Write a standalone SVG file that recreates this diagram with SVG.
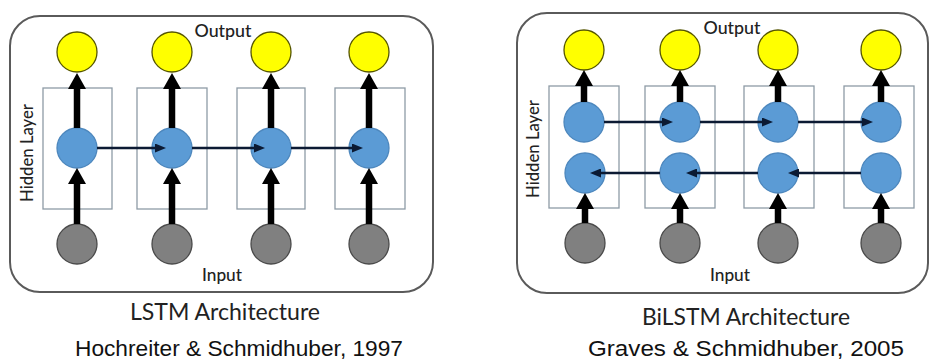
<svg xmlns="http://www.w3.org/2000/svg" width="930" height="362" viewBox="0 0 930 362">
<defs>
<marker id="thick" markerUnits="userSpaceOnUse" markerWidth="17" markerHeight="18" refX="0" refY="9" orient="auto">
<path d="M0,0 L16,9 L0,18 z" fill="#000"/>
</marker>
<marker id="thin" markerUnits="userSpaceOnUse" markerWidth="11" markerHeight="9" refX="0" refY="4.5" orient="auto">
<path d="M0,0 L11,4.5 L0,9 z" fill="#0b1a33"/>
</marker>
</defs>
<style>
.panel{fill:#fff;stroke:#5a5a5a;stroke-width:2}
.box{fill:none;stroke:#8e9ba6;stroke-width:1.3}
.out{fill:#ffff00;stroke:#555500;stroke-width:1.3}
.hid{fill:#5b9bd5;stroke:#4d87bd;stroke-width:1.3}
.inp{fill:#808080;stroke:#4a4a4a;stroke-width:1.3}
.tk{stroke:#000;stroke-width:6.5;marker-end:url(#thick)}
.tn{stroke:#0b1a33;stroke-width:2.6;marker-end:url(#thin)}
.lbl{font-family:Lato,"Open Sans",sans-serif;font-size:18px;font-weight:500;fill:#222;text-anchor:middle}
.ttl{font-family:Lato,"Open Sans",sans-serif;font-size:23px;fill:#222;text-anchor:middle}
.ref{font-family:"Liberation Sans",Arial,sans-serif;font-size:22px;fill:#111;text-anchor:middle}
</style>
<rect width="930" height="362" fill="#fff"/>
<!-- LEFT: LSTM -->
<g id="lstm-panel">
<rect class="panel" x="10" y="16" width="423" height="276" rx="30"/>
<rect class="box" x="43" y="88" width="69" height="121"/>
<rect class="box" x="137" y="88" width="70" height="121"/>
<rect class="box" x="237" y="88" width="68" height="121"/>
<rect class="box" x="335" y="88" width="70" height="121"/>
<text class="lbl" x="223" y="37" textLength="57" lengthAdjust="spacingAndGlyphs">Output</text>
<text class="lbl" x="222" y="281" textLength="40" lengthAdjust="spacingAndGlyphs">Input</text>
<text class="lbl" x="0" y="0" transform="translate(33,153) rotate(-90)" textLength="98" lengthAdjust="spacingAndGlyphs">Hidden Layer</text>
</g>
<g id="lstm-y1"><circle class="out" cx="77" cy="52" r="20"/></g>
<g id="lstm-y2"><circle class="out" cx="172" cy="52" r="20"/></g>
<g id="lstm-y3"><circle class="out" cx="271" cy="52" r="20"/></g>
<g id="lstm-y4"><circle class="out" cx="369" cy="52" r="20"/></g>
<g id="lstm-h1"><circle class="hid" cx="77" cy="148" r="20"/></g>
<g id="lstm-h2"><circle class="hid" cx="172" cy="148" r="20"/></g>
<g id="lstm-h3"><circle class="hid" cx="271" cy="148" r="20"/></g>
<g id="lstm-h4"><circle class="hid" cx="369" cy="148" r="20"/></g>
<g id="lstm-x1"><circle class="inp" cx="77" cy="244" r="20"/></g>
<g id="lstm-x2"><circle class="inp" cx="172" cy="244" r="20"/></g>
<g id="lstm-x3"><circle class="inp" cx="271" cy="244" r="20"/></g>
<g id="lstm-x4"><circle class="inp" cx="369" cy="244" r="20"/></g>
<!-- RIGHT: BiLSTM -->
<g id="bilstm-panel">
<rect class="panel" x="517" y="13" width="411" height="280" rx="30"/>
<rect class="box" x="549" y="86" width="70" height="122"/>
<rect class="box" x="645" y="86" width="70" height="122"/>
<rect class="box" x="744" y="86" width="70" height="122"/>
<rect class="box" x="844" y="86" width="70" height="122"/>
<text class="lbl" x="732" y="34" textLength="57" lengthAdjust="spacingAndGlyphs">Output</text>
<text class="lbl" x="730" y="281" textLength="40" lengthAdjust="spacingAndGlyphs">Input</text>
<text class="lbl" x="0" y="0" transform="translate(539,149) rotate(-90)" textLength="98" lengthAdjust="spacingAndGlyphs">Hidden Layer</text>
</g>
<g id="bi-y1"><circle class="out" cx="584" cy="50" r="20"/></g>
<g id="bi-y2"><circle class="out" cx="680" cy="50" r="20"/></g>
<g id="bi-y3"><circle class="out" cx="778" cy="50" r="20"/></g>
<g id="bi-y4"><circle class="out" cx="881" cy="50" r="20"/></g>
<g id="bi-f1"><circle class="hid" cx="584" cy="122" r="20"/></g>
<g id="bi-f2"><circle class="hid" cx="680" cy="122" r="20"/></g>
<g id="bi-f3"><circle class="hid" cx="778" cy="122" r="20"/></g>
<g id="bi-f4"><circle class="hid" cx="881" cy="122" r="20"/></g>
<g id="bi-b1"><circle class="hid" cx="585" cy="173" r="20"/></g>
<g id="bi-b2"><circle class="hid" cx="680" cy="173" r="20"/></g>
<g id="bi-b3"><circle class="hid" cx="778" cy="173" r="20"/></g>
<g id="bi-b4"><circle class="hid" cx="881" cy="173" r="20"/></g>
<g id="bi-x1"><circle class="inp" cx="585" cy="243" r="20"/></g>
<g id="bi-x2"><circle class="inp" cx="680" cy="243" r="20"/></g>
<g id="bi-x3"><circle class="inp" cx="778" cy="243" r="20"/></g>
<g id="bi-x4"><circle class="inp" cx="881" cy="243" r="20"/></g>
<g id="connectors">
<!-- LSTM vertical -->
<line class="tk" x1="77" y1="224" x2="77" y2="184"/>
<line class="tk" x1="172" y1="224" x2="172" y2="184"/>
<line class="tk" x1="271" y1="224" x2="271" y2="184"/>
<line class="tk" x1="369" y1="224" x2="369" y2="184"/>
<line class="tk" x1="77" y1="128" x2="77" y2="89"/>
<line class="tk" x1="172" y1="128" x2="172" y2="89"/>
<line class="tk" x1="271" y1="128" x2="271" y2="89"/>
<line class="tk" x1="369" y1="128" x2="369" y2="89"/>
<!-- LSTM horizontal -->
<line class="tn" x1="97" y1="148" x2="155" y2="148"/>
<line class="tn" x1="192" y1="148" x2="254" y2="148"/>
<line class="tn" x1="291" y1="148" x2="352" y2="148"/>
<!-- BiLSTM vertical -->
<line class="tk" x1="585" y1="223" x2="585" y2="209"/>
<line class="tk" x1="680" y1="223" x2="680" y2="209"/>
<line class="tk" x1="778" y1="223" x2="778" y2="209"/>
<line class="tk" x1="881" y1="223" x2="881" y2="209"/>
<line class="tk" x1="584" y1="102" x2="584" y2="86"/>
<line class="tk" x1="680" y1="102" x2="680" y2="86"/>
<line class="tk" x1="778" y1="102" x2="778" y2="86"/>
<line class="tk" x1="881" y1="102" x2="881" y2="86"/>
<!-- BiLSTM forward -->
<line class="tn" x1="604" y1="122" x2="662" y2="122"/>
<line class="tn" x1="700" y1="122" x2="762" y2="122"/>
<line class="tn" x1="798" y1="122" x2="862" y2="122"/>
<!-- BiLSTM backward -->
<line class="tn" x1="660" y1="173" x2="601" y2="173"/>
<line class="tn" x1="758" y1="173" x2="697" y2="173"/>
<line class="tn" x1="861" y1="173" x2="799" y2="173"/>
</g>
<text class="ttl" x="225" y="320" textLength="190" lengthAdjust="spacingAndGlyphs">LSTM Architecture</text>
<text class="ref" x="239" y="356" textLength="328" lengthAdjust="spacingAndGlyphs">Hochreiter &amp; Schmidhuber, 1997</text>
<text class="ttl" x="746" y="325" textLength="208" lengthAdjust="spacingAndGlyphs">BiLSTM Architecture</text>
<text class="ref" x="746" y="356" textLength="316" lengthAdjust="spacingAndGlyphs">Graves &amp; Schmidhuber, 2005</text>
</svg>
